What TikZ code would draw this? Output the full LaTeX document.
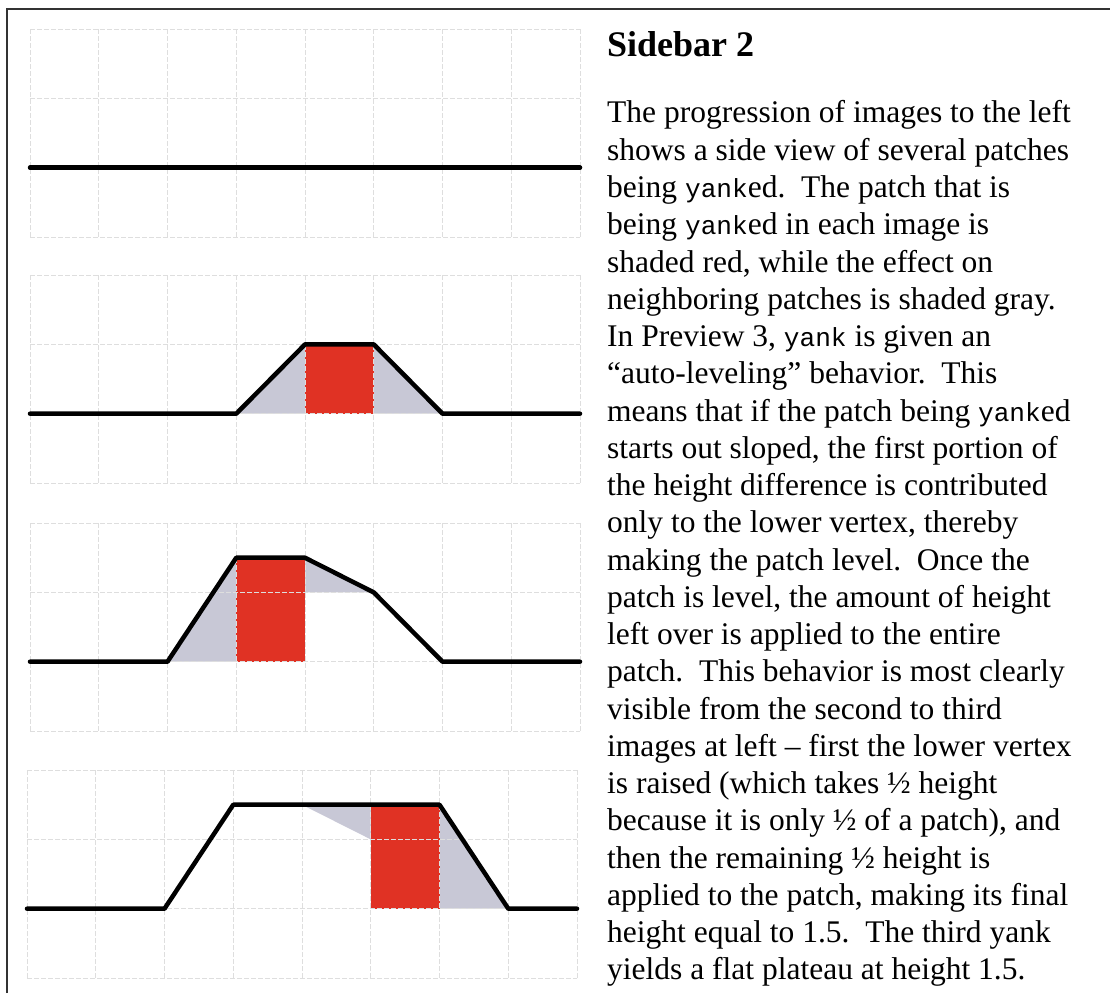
\documentclass[tikz,border=0pt]{standalone}
\usepackage{fontspec}
\setmainfont{Liberation Serif}
\setmonofont[Scale=0.83]{Liberation Mono}
\usepackage{tikz}
\definecolor{patchred}{RGB}{224,50,36}
\definecolor{nbgray}{RGB}{200,200,214}

\begin{document}
\begin{tikzpicture}[x=1pt, y=1pt]
    \tikzset{
        frame_line/.style={line width=1.5pt, black!80},
        grid_line/.style={line width=0.7pt, black!13, dash pattern=on 5pt off 2pt},
        surface/.style={line width=4.5pt, line join=round, line cap=round},
        yanked/.style={fill=patchred},
        neighbor/.style={fill=nbgray},
        bodytext/.style={anchor=base west, inner sep=0pt, font=\fontsize{31.5}{37}\selectfont}
    }

    \useasboundingbox (0,0) rectangle (1110,993);

    % Rahmen oben und links
    \draw[frame_line] (7,0) -- (7,984) -- (1110,984);

    \foreach \bottom / \dx / \stage in {756/0/1, 510/0/2, 262/0/3, 15/-3/4} {
        \begin{scope}[shift={({30+\dx},\bottom)}, x=68.75pt, y=69.3pt]
            % --- Flaechen ---
            \ifnum \stage=2
                \fill[neighbor] (3,1) -- (4,2) -- (4,1) -- cycle;
                \fill[neighbor] (5,1) -- (5,2) -- (6,1) -- cycle;
                \fill[yanked] (4,1) rectangle (5,2);
            \fi
            \ifnum \stage=3
                \fill[neighbor] (2,1) -- (3,2.5) -- (3,1) -- cycle;
                \fill[neighbor] (4,2) -- (4,2.5) -- (5,2) -- cycle;
                \fill[yanked] (3,1) rectangle (4,2.5);
            \fi
            \ifnum \stage=4
                \fill[neighbor] (4,2.5) -- (5,2.5) -- (5,2) -- cycle;
                \fill[neighbor] (6,1) -- (6,2.5) -- (7,1) -- cycle;
                \fill[yanked] (5,1) rectangle (6,2.5);
            \fi

            % --- Gitter ---
            \foreach \c in {0,...,8} \draw[grid_line] (\c,0) -- (\c,3);
            \foreach \r in {0,...,3} \draw[grid_line] (0,\r) -- (8,\r);

            % --- Profil ---
            \ifnum \stage=1 \draw[surface] (0,1) -- (8,1); \fi
            \ifnum \stage=2 \draw[surface] (0,1) -- (3,1) -- (4,2) -- (5,2) -- (6,1) -- (8,1); \fi
            \ifnum \stage=3 \draw[surface] (0,1) -- (2,1) -- (3,2.5) -- (4,2.5) -- (5,2) -- (6,1) -- (8,1); \fi
            \ifnum \stage=4 \draw[surface] (0,1) -- (2,1) -- (3,2.5) -- (6,2.5) -- (7,1) -- (8,1); \fi
        \end{scope}
    }

    % Text rechts
    \node[anchor=base west, inner sep=0pt, font=\bfseries\fontsize{36}{40}\selectfont] (title) at (607,936) {Sidebar 2};

    \foreach \txt [count=\i] in {
        {The progression of images to the left},
        {shows a side view of several patches},
        {being \texttt{yank}ed.\ \ The patch that is},
        {being \texttt{yank}ed in each image is},
        {shaded red, while the effect on},
        {neighboring patches is shaded gray.},
        {In Preview 3, \texttt{yank} is given an},
        {“auto-leveling” behavior.\ \ This},
        {means that if the patch being \texttt{yank}ed},
        {starts out sloped, the first portion of},
        {the height difference is contributed},
        {only to the lower vertex, thereby},
        {making the patch level.\ \ Once the},
        {patch is level, the amount of height},
        {left over is applied to the entire},
        {patch.\ \ This behavior is most clearly},
        {visible from the second to third},
        {images at left – first the lower vertex},
        {is raised (which takes ½ height},
        {because it is only ½ of a patch), and},
        {then the remaining ½ height is},
        {applied to the patch, making its final},
        {height equal to 1.5.\ \ The third yank},
        {yields a flat plateau at height 1.5.}} {
        \node[bodytext] (line\i) at (607,{870-(\i-1)*37.26}) {\txt};
    }

\end{tikzpicture}
\end{document}
